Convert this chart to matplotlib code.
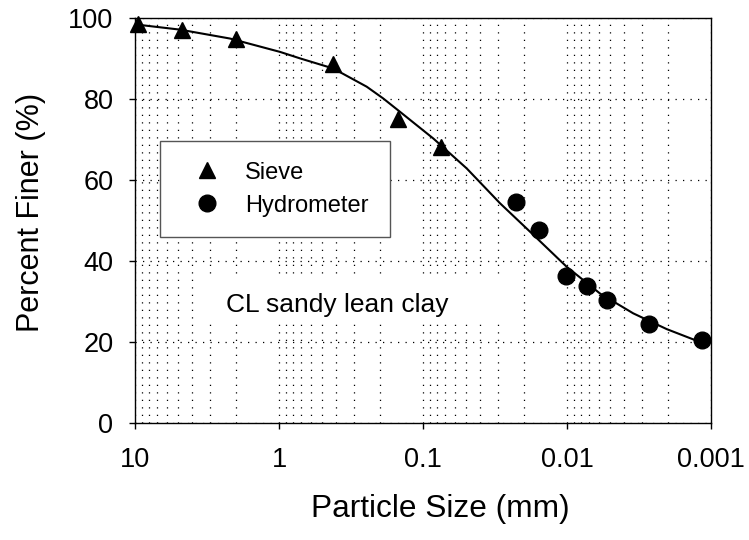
import matplotlib
matplotlib.use("Agg")
import matplotlib.pyplot as plt
from matplotlib.patches import Rectangle
from matplotlib.ticker import FixedLocator, LogLocator, NullFormatter

plt.rcParams["font.family"] = ["Liberation Sans", "DejaVu Sans"]

# sieve analysis (mm, % finer)
sieve_size = [9.5, 4.75, 2.0, 0.425, 0.15, 0.075]
sieve_finer = [98.7, 97.0, 94.8, 88.8, 75.1, 68.2]

# hydrometer readings (mm, % finer)
hydro_size = [0.0227, 0.0156, 0.0102, 0.0073, 0.0053, 0.0027, 0.00116]
hydro_finer = [54.6, 47.7, 36.3, 33.9, 30.4, 24.4, 20.5]

# fitted gradation curve
fit_size = [10, 4.87, 2.19, 0.984, 0.715, 0.42, 0.246, 0.189, 0.1445, 0.0848,
            0.0497, 0.0292, 0.01714, 0.01005, 0.0059, 0.00347, 0.00203, 0.00119]
fit_finer = [98.5, 97.2, 95.0, 91.7, 90.1, 87.6, 83.1, 80.2, 76.9, 70.3,
             62.9, 54.3, 46.5, 38.6, 32.0, 27.1, 23.2, 20.0]

x_ticks = [10, 1, 0.1, 0.01, 0.001]
x_tick_labels = ["10", "1", "0.1", "0.01", "0.001"]
y_ticks = [0, 20, 40, 60, 80, 100]

fig = plt.figure(figsize=(7.49, 5.40), dpi=100)
ax = fig.add_axes([135 / 749, 117 / 540, 576 / 749, 404.7 / 540])

ax.set_xscale("log")
ax.set_xlim(10, 0.001)
ax.set_ylim(0, 100)

ax.xaxis.set_major_locator(FixedLocator(x_ticks))
ax.set_xticklabels(x_tick_labels)
ax.xaxis.set_minor_locator(LogLocator(base=10, subs=range(2, 10)))
ax.xaxis.set_minor_formatter(NullFormatter())
ax.set_yticks(y_ticks)

dots = (0, (1, 5))
ax.grid(True, axis="x", which="both", color="black", linestyle=dots, linewidth=0.9)
ax.grid(True, axis="y", which="major", color="black", linestyle=dots, linewidth=0.9)
ax.set_axisbelow(True)

ax.tick_params(which="major", direction="out", length=4.5, width=1, labelsize=19.5)
ax.tick_params(axis="x", which="major", pad=13)
ax.tick_params(axis="y", which="major", pad=11)
ax.tick_params(which="minor", length=0)
for s in ax.spines.values():
    s.set_linewidth(1.0)
    s.set_color("black")

# blank area behind the soil description
ax.add_patch(Rectangle((0.113, 0.245), 0.545, 0.118, transform=ax.transAxes,
                       facecolor="white", edgecolor="none", zorder=1.5))
ax.text(0.3516, 0.275, "CL sandy lean clay", transform=ax.transAxes,
        ha="center", va="baseline", fontsize=19, zorder=3)

ax.plot(fit_size, fit_finer, color="black", linewidth=1.5, zorder=3)
ax.plot(sieve_size, sieve_finer, "^", color="black", markersize=12,
        label="Sieve", clip_on=False, zorder=4)
ax.plot(hydro_size, hydro_finer, "o", color="black", markersize=12,
        label="Hydrometer", clip_on=False, zorder=4)

leg = ax.legend(loc="upper left", bbox_to_anchor=(0.0434, 0.697), fontsize=17,
                frameon=True, fancybox=False, framealpha=1, borderpad=0.88,
                handlelength=2.23, handletextpad=0.5, labelspacing=0.46,
                borderaxespad=0)
leg.get_frame().set_edgecolor("#555555")
leg.get_frame().set_linewidth(1.0)

ax.set_xlabel("Particle Size (mm)", fontsize=22.8)
ax.xaxis.set_label_coords(0.53, -0.175)
ax.set_ylabel("Percent Finer (%)", fontsize=22)
ax.yaxis.set_label_coords(-0.155, 0.52)

fig.savefig("out.png", dpi=100, facecolor="white")
